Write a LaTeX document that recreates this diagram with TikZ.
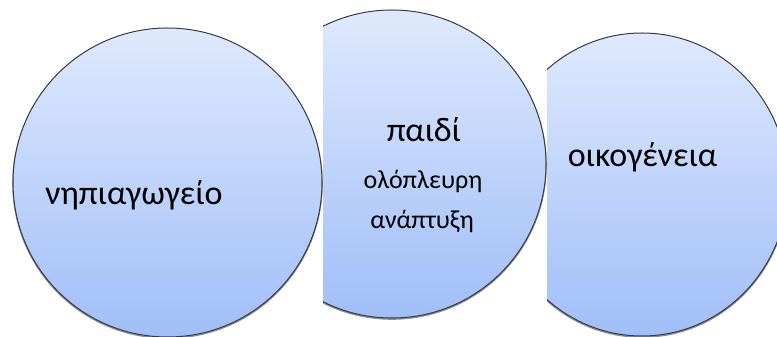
\documentclass[tikz,border=0pt]{standalone}
\usepackage{fontspec}
\setmainfont{Carlito}
\usetikzlibrary{shapes.geometric}
\definecolor{topblue}{HTML}{DFE9FD}
\definecolor{botblue}{HTML}{A0BEF8}
\definecolor{rimgray}{HTML}{363B44}
\tikzset{
  disc/.style={circle, inner sep=0pt, draw=rimgray, line width=1pt,
    top color=topblue, bottom color=botblue},
  ovaldisc/.style={ellipse, inner sep=0pt, draw=rimgray, line width=1pt,
    top color=topblue, bottom color=botblue},
  rimshadow/.style={draw=black!45, line width=1.6pt, fill=none},
  bigtext/.style={anchor=base, inner sep=0pt, font=\fontsize{34}{40}\selectfont},
  smalltext/.style={anchor=base, inner sep=0pt, font=\fontsize{26}{31}\selectfont}
}
\begin{document}
\begin{tikzpicture}[x=1pt,y=1pt]
\useasboundingbox (0,0) rectangle (777,337);
\draw[rimshadow] (167.5,153.5) circle[radius=154.5];
\node[disc, minimum size=309pt] (c1) at (167.5,154.5) {};
\begin{scope}
  \clip (323,0) rectangle (777,337);
  \draw[rimshadow] (392,172) circle[radius=154];
  \node[disc, minimum size=308pt] (c2) at (392,173) {};
\end{scope}
\begin{scope}
  \clip (547,0) rectangle (777,337);
  \draw[rimshadow] (642,151.5) ellipse[x radius=146, y radius=151.5];
  \node[ovaldisc, minimum width=292pt, minimum height=303pt] (c3) at (642,152.5) {};
\end{scope}
\node[bigtext] (t1) at (134,132) {νηπιαγωγείο};
\node[bigtext] (t2) at (424,195) {παιδί};
\node[smalltext] (t3) at (423,148) {ολόπλευρη};
\node[smalltext] (t4) at (422,108) {ανάπτυξη};
\node[bigtext] (t5) at (642.5,170) {οικογένεια};
\end{tikzpicture}
\end{document}
